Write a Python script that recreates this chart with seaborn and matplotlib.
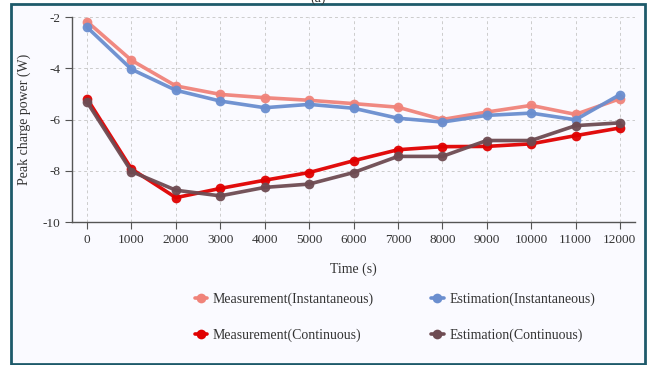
import matplotlib
matplotlib.use("Agg")
import matplotlib.pyplot as plt
import matplotlib.patches as mpatches
from matplotlib.lines import Line2D
import pandas as pd
import seaborn as sns

time_s = [0, 1000, 2000, 3000, 4000, 5000, 6000, 7000, 8000, 9000, 10000, 11000, 12000]
meas_inst = [-2.18, -3.69, -4.69, -5.02, -5.15, -5.25, -5.38, -5.52, -6.00, -5.71, -5.45, -5.80, -5.19]
est_inst = [-2.40, -4.04, -4.86, -5.28, -5.54, -5.41, -5.56, -5.95, -6.10, -5.84, -5.75, -6.01, -5.03]
meas_cont = [-5.19, -7.93, -9.05, -8.69, -8.37, -8.07, -7.61, -7.18, -7.06, -7.05, -6.95, -6.63, -6.33]
est_cont = [-5.32, -8.03, -8.76, -8.98, -8.65, -8.52, -8.07, -7.44, -7.44, -6.82, -6.82, -6.24, -6.13]

series_names = ["Measurement(Instantaneous)", "Estimation(Instantaneous)",
                "Measurement(Continuous)", "Estimation(Continuous)"]
series_colors = ["#f0837a", "#6a8ecf", "#e00000", "#6e4b52"]
x_ticks = list(range(0, 12001, 1000))
y_ticks = [-10, -8, -6, -4, -2]

sns.set_theme(style="white")
plt.rcParams["font.family"] = ["Liberation Serif", "DejaVu Serif"]

rows = []
for name, vals in zip(series_names, [meas_inst, est_inst, meas_cont, est_cont]):
    for t, v in zip(time_s, vals):
        rows.append({"Time": t, "Power": v, "Series": name})
df = pd.DataFrame(rows)

bg = "#fafaff"
fig = plt.figure(figsize=(6.53, 3.65), dpi=100, facecolor="white")
fig.patches.append(mpatches.Rectangle((11 / 653, 0.0025), (645 - 11) / 653, 1 - 4 / 365 - 0.0025,
                                      transform=fig.transFigure, facecolor=bg,
                                      edgecolor="#1d5a6a", linewidth=2, zorder=-10))
ax = fig.add_axes([72 / 653, 1 - 222 / 365, (635 - 72) / 653, (222 - 17) / 365])
ax.set_facecolor(bg)

sns.lineplot(data=df, x="Time", y="Power", hue="Series", hue_order=series_names,
             palette=series_colors, marker="o", markersize=7, markeredgewidth=0,
             linewidth=2.6, ax=ax, legend=False, alpha=0.95)

ax.set_xlim(-340, 12340)
ax.set_ylim(-10, -2)
ax.set_xticks(x_ticks)
ax.set_xticklabels([str(t) for t in x_ticks])
ax.set_yticks(y_ticks)
ax.set_yticklabels([str(v) for v in y_ticks])
ax.grid(True, color="#cccccc", linestyle=(0, (3, 3)), linewidth=0.7)
for side in ["top", "right"]:
    ax.spines[side].set_visible(False)
for side in ["left", "bottom"]:
    ax.spines[side].set_color("#555555")
    ax.spines[side].set_linewidth(1.0)
ax.tick_params(axis="both", which="both", length=5, width=0.8, color="#555555",
               labelsize=9.5, labelcolor="#333333", direction="out", bottom=True, left=True)
ax.set_xlabel("Time (s)", fontsize=10, color="#333333", labelpad=12)
ax.set_ylabel("Peak charge power (W)", fontsize=10, color="#333333", labelpad=8)

# legend laid out row by row: instantaneous pair on top, continuous pair below
handles = [Line2D([], [], color=c, marker="o", markersize=7, markeredgewidth=0,
                  linewidth=2.6) for c in series_colors]
order = [0, 2, 1, 3]
fig.legend([handles[i] for i in order], [series_names[i] for i in order],
           loc="center", bbox_to_anchor=(395 / 653, 1 - 317 / 365),
           ncol=2, frameon=False, fontsize=10, handlelength=0.9, handletextpad=0.4,
           columnspacing=4.1, labelspacing=1.6, labelcolor="#333333")

fig.text(318 / 653, 1 + 8 / 365, "(a)", ha="center", va="top", fontsize=10, color="#333333")

fig.savefig("out.png", dpi=100, facecolor=fig.get_facecolor())
